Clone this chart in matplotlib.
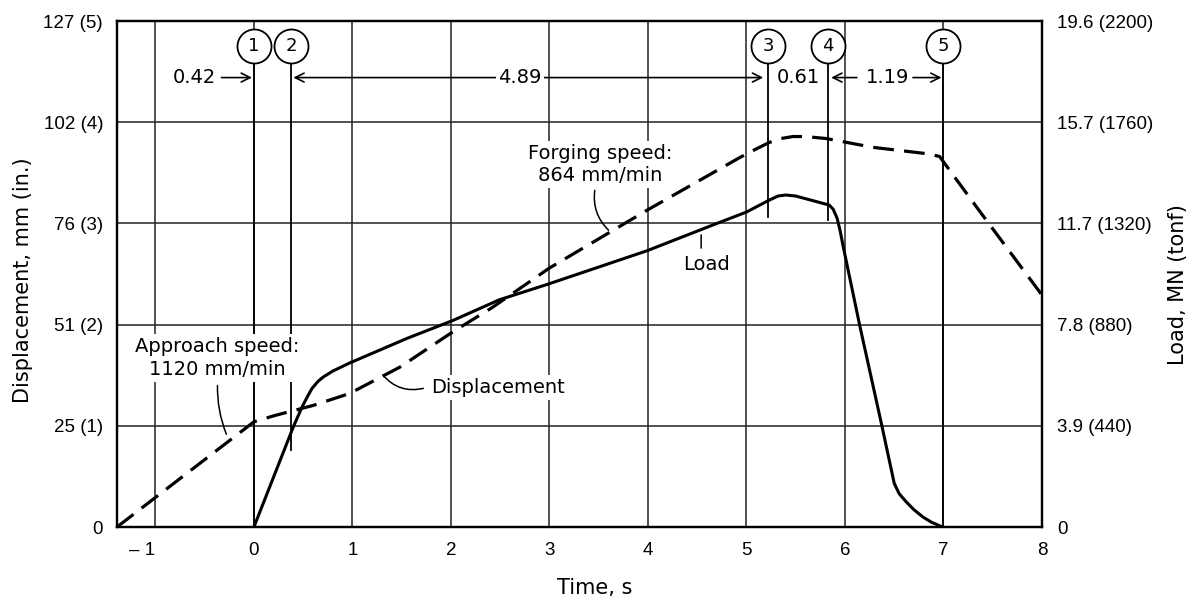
import matplotlib
matplotlib.use("Agg")
import matplotlib.pyplot as plt
from matplotlib.ticker import FixedLocator

# ---------------- data ----------------
# displacement (dashed), time in s, displacement in mm
disp_time = [-1.39, 0.0, 0.2, 0.4, 0.6, 0.97, 1.48, 2.02, 2.42, 3.0, 3.99, 4.93,
             5.1, 5.23, 5.35, 5.47, 5.6, 5.81, 6.28, 6.83, 6.96, 7.36, 8.0]
disp_mm = [0.0, 26.4, 27.9, 29.2, 30.5, 33.5, 40.1, 49.0, 55.1, 65.0, 79.5, 92.7,
           94.9, 96.5, 97.5, 98.0, 98.0, 97.5, 95.3, 93.7, 93.0, 79.5, 58.2]

# load (solid), time in s, load in MN
load_time = [0.0, 0.40, 0.49, 0.55, 0.59, 0.65, 0.70, 0.80, 0.97, 1.55, 2.02, 2.49,
             2.98, 3.99, 4.66, 5.0, 5.23, 5.32, 5.40, 5.50, 5.84, 5.88, 5.92, 5.95,
             5.98, 6.15, 6.37, 6.50, 6.55, 6.62, 6.70, 6.79, 6.88, 6.99]
load_mn = [0.0, 3.88, 4.66, 5.10, 5.37, 5.64, 5.80, 6.04, 6.35, 7.3, 8.0, 8.8,
           9.4, 10.7, 11.7, 12.2, 12.66, 12.82, 12.86, 12.82, 12.47, 12.31, 11.96, 11.49,
           10.9, 7.8, 4.0, 1.69, 1.29, 0.98, 0.67, 0.39, 0.18, 0.0]

# x axis
x_ticks = [-1, 0, 1, 2, 3, 4, 5, 6, 7, 8]
x_labels = ["\u2013 1", "0", "1", "2", "3", "4", "5", "6", "7", "8"]

# left axis (mm with inches)
left_ticks = [0, 25.4, 50.8, 76.2, 101.6, 127.0]
left_labels = ["0", "25 (1)", "51 (2)", "76 (3)", "102 (4)", "127 (5)"]

# right axis (MN with tonf)
right_ticks = [0, 3.92, 7.84, 11.76, 15.68, 19.6]
right_labels = ["0", "3.9 (440)", "7.8 (880)", "11.7 (1320)", "15.7 (1760)", "19.6 (2200)"]

# events (circled numbers) and intervals
event_ids = ["1", "2", "3", "4", "5"]
event_times = [0.0, 0.38, 5.22, 5.83, 7.0]
event_line_bottom_mm = [0.0, 19.3, 77.7, 77.0, 0.0]
interval_labels = ["0.42", "4.89", "0.61", "1.19"]

# ---------------- styling ----------------
TICK_FONT = ["Liberation Sans Narrow", "DejaVu Sans Condensed", "Liberation Sans", "DejaVu Sans"]
TEXT_FONT = ["DejaVu Sans"]
plt.rcParams["font.family"] = TEXT_FONT

fig = plt.figure(figsize=(11.99, 6.01), dpi=100)
ax = fig.add_axes([117 / 1199, 1 - 527 / 601, (1042 - 117) / 1199, (527 - 21) / 601])
ax2 = ax.twinx()

ax.set_xlim(-1.39, 8.0)
ax.set_ylim(0, 127)
ax2.set_ylim(0, 19.6)

ax.xaxis.set_major_locator(FixedLocator(x_ticks))
ax.set_xticklabels(x_labels)
ax.yaxis.set_major_locator(FixedLocator(left_ticks))
ax.set_yticklabels(left_labels)
ax2.yaxis.set_major_locator(FixedLocator(right_ticks))
ax2.set_yticklabels(right_labels)

for lab in ax.get_xticklabels() + ax.get_yticklabels() + ax2.get_yticklabels():
    lab.set_family(TICK_FONT)
    lab.set_fontsize(13.5)
ax.get_xticklabels()[0].set_horizontalalignment("right")

ax.tick_params(axis="both", length=0)
ax.tick_params(axis="x", pad=11)
ax.tick_params(axis="y", pad=10)
ax2.tick_params(axis="y", length=0, pad=11)

for a in (ax, ax2):
    for s in a.spines.values():
        s.set_linewidth(1.6)
        s.set_color("black")

ax.grid(True, color="#222222", linewidth=1.1)
ax.set_axisbelow(True)

# curves
ax.plot(disp_time, disp_mm, color="black", linewidth=2.3, linestyle=(0, (6.5, 3.2)),
        dash_capstyle="butt", dash_joinstyle="round", zorder=3)
ax2.plot(load_time, load_mn, color="black", linewidth=2.2, solid_joinstyle="round", zorder=3)

# event vertical lines and circles
circle_y = 120.7
circle_bottom = 116.3
for t, yb in zip(event_times, event_line_bottom_mm):
    ax.plot([t, t], [yb, circle_bottom], color="black", linewidth=1.3, zorder=2)
ax.plot(event_times, [circle_y] * len(event_times), linestyle="none", marker="o",
        markersize=24.5, markerfacecolor="white", markeredgecolor="black",
        markeredgewidth=1.3, zorder=6, clip_on=False)
for t, lab in zip(event_times, event_ids):
    ax.text(t, circle_y, lab, ha="center", va="center", fontsize=13, zorder=7,
            family=TEXT_FONT)

# dimension arrows
arr_y = 112.8
aprops = dict(arrowstyle="->", color="black", lw=1.2, mutation_scale=16,
              shrinkA=0, shrinkB=0)
fs_dim = 14
# 0.42
ax.text(-0.60, arr_y, interval_labels[0], ha="center", va="center", fontsize=fs_dim)
ax.annotate("", xy=(event_times[0] - 0.02, arr_y), xytext=(-0.33, arr_y), arrowprops=aprops)
# 4.89
ax.annotate("", xy=(event_times[2] - 0.05, arr_y), xytext=(event_times[1] + 0.02, arr_y),
            arrowprops=dict(arrowstyle="<->", color="black", lw=1.2, mutation_scale=16,
                            shrinkA=0, shrinkB=0), zorder=4)
ax.text(2.70, arr_y, interval_labels[1], ha="center", va="center", fontsize=fs_dim, zorder=5,
        bbox=dict(boxstyle="square,pad=0.12", fc="white", ec="none"))
# 0.61
ax.text((event_times[2] + event_times[3]) / 2, arr_y, interval_labels[2], ha="center",
        va="center", fontsize=fs_dim, zorder=5,
        bbox=dict(boxstyle="square,pad=0.05", fc="white", ec="none"))
# 1.19
ax.annotate("", xy=(event_times[3] + 0.03, arr_y), xytext=(6.12, arr_y), arrowprops=aprops)
ax.text(6.43, arr_y, interval_labels[3], ha="center", va="center", fontsize=fs_dim, zorder=5,
        bbox=dict(boxstyle="square,pad=0.15", fc="white", ec="none"))
ax.annotate("", xy=(event_times[4] - 0.02, arr_y), xytext=(6.69, arr_y), arrowprops=aprops)

# annotations
fs_ann = 14
box = dict(boxstyle="square,pad=0.15", fc="white", ec="none")
ax.text(-0.375, 42.4, "Approach speed:\n1120 mm/min", ha="center", va="center",
        fontsize=fs_ann, linespacing=1.3, zorder=5, bbox=box)
ax.annotate("", xy=(-0.28, 23.3), xytext=(-0.37, 35.5),
            arrowprops=dict(arrowstyle="-", color="black", lw=1.1,
                            connectionstyle="arc3,rad=0.1", shrinkA=0, shrinkB=0))

ax.text(3.51, 91.0, "Forging speed:\n864 mm/min", ha="center", va="center",
        fontsize=fs_ann, linespacing=1.25, zorder=5, bbox=box)
ax.annotate("", xy=(3.60, 74.5), xytext=(3.46, 84.5),
            arrowprops=dict(arrowstyle="-", color="black", lw=1.1,
                            connectionstyle="arc3,rad=0.25", shrinkA=0, shrinkB=0))

ax.text(4.59, 65.8, "Load", ha="center", va="center", fontsize=fs_ann, zorder=5)
ax.annotate("", xy=(4.54, 70.0), xytext=(4.54, 73.3),
            arrowprops=dict(arrowstyle="-", color="black", lw=1.1, shrinkA=0, shrinkB=0))

ax.text(2.48, 35.1, "Displacement", ha="center", va="center", fontsize=fs_ann, zorder=5,
        bbox=box)
ax.annotate("", xy=(1.31, 38.1), xytext=(1.72, 34.8),
            arrowprops=dict(arrowstyle="-", color="black", lw=1.1,
                            connectionstyle="arc3,rad=-0.3", shrinkA=0, shrinkB=0))

# axis labels
fig.text(595 / 1199, 1 - 588 / 601, "Time, s", ha="center", va="center", fontsize=15)
fig.text(23 / 1199, 1 - 280 / 601, "Displacement, mm (in.)", ha="center", va="center",
         rotation=90, fontsize=15)
fig.text(1178 / 1199, 1 - 285 / 601, "Load, MN (tonf)", ha="center", va="center",
         rotation=90, fontsize=15)

fig.savefig("out.png", dpi=100, facecolor="white")
